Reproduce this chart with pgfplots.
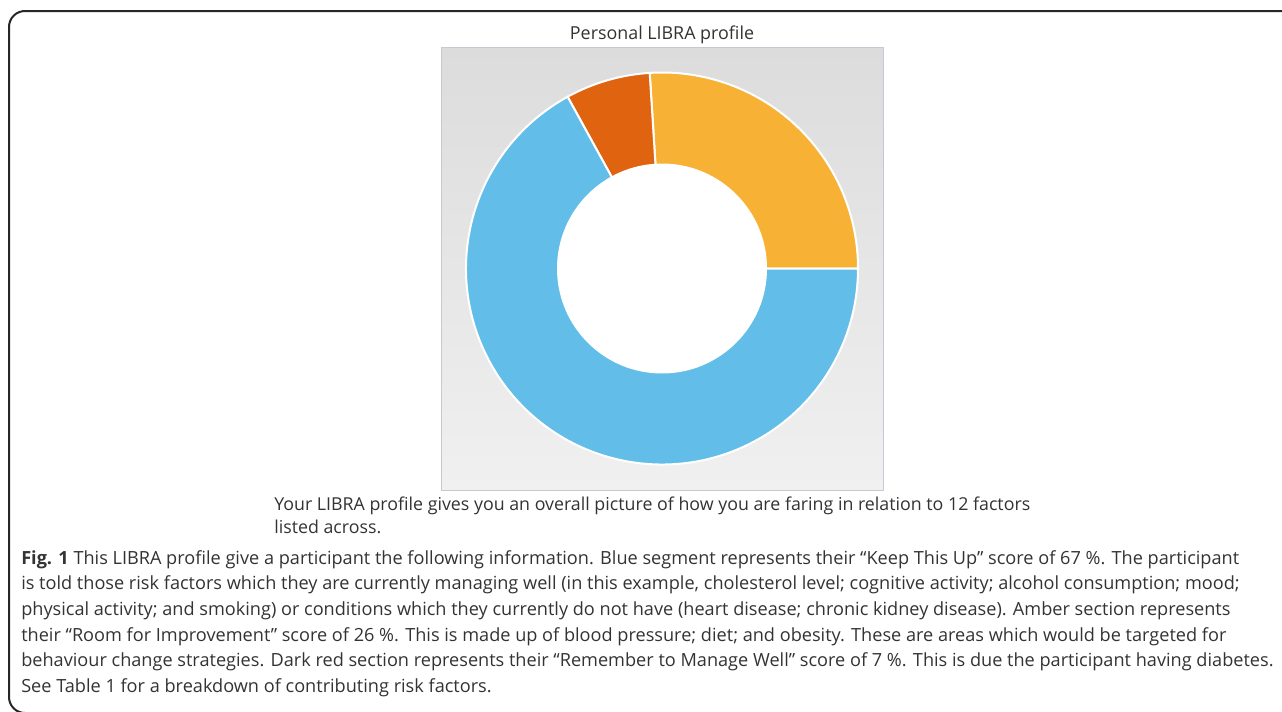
\documentclass[border=0pt]{standalone}
\usepackage{pgfplots}
\pgfplotsset{compat=1.18}
\usepackage{pgfplotstable}
\usepackage{fontspec}
\setmainfont{Open Sans}
\newfontfamily\chartfont{Open Sans}

\definecolor{amber}{RGB}{247,177,52}
\definecolor{darkred}{RGB}{224,99,15}
\definecolor{keepblue}{RGB}{98,190,233}
\definecolor{txt}{RGB}{51,51,51}
\definecolor{gtop}{RGB}{220,220,220}
\definecolor{gbot}{RGB}{240,240,240}
\definecolor{boxline}{RGB}{196,201,210}

% LIBRA profile scores (percent), drawn counterclockwise from 3 o'clock
\pgfplotstableread{
segment value
Improvement 26
Manage 7
Keep 67
}\libra

\begin{document}
\begin{tikzpicture}
\pgfplotstablegetelem{0}{value}\of\libra \let\va\pgfplotsretval
\pgfplotstablegetelem{1}{value}\of\libra \let\vb\pgfplotsretval
\pgfplotstablegetelem{2}{value}\of\libra \let\vc\pgfplotsretval
\pgfmathsetmacro\aA{3.6*\va}
\pgfmathsetmacro\aB{\aA+3.6*\vb}
\pgfmathsetmacro\aC{\aB+3.6*\vc}

\begin{scope}[x=0.75pt,y=-0.75pt]
\useasboundingbox (0,0) rectangle (1282,711);
\draw[line width=1.5pt, black!85, rounded corners=12] (1300,11) -- (9,11) -- (9,713) -- (40,713);
\end{scope}

\begin{axis}[
  at={(496.5pt,-201.375pt)}, anchor=center,
  scale only axis, width=331.5pt, height=332.25pt,
  xmin=-221, xmax=221, ymin=-221.5, ymax=221.5,
  hide axis, clip=false]
\fill[top color=gtop, bottom color=gbot, draw=boxline, line width=0.75pt]
  (rel axis cs:0,0) rectangle (rel axis cs:1,1);
\fill[amber, draw=white, line width=1.5pt] (axis cs:0,0) -- (axis cs:{196*cos(0)},{196*sin(0)})
  arc[start angle=0, end angle=\aA, radius=147pt] -- cycle;
\fill[darkred, draw=white, line width=1.5pt] (axis cs:0,0) -- (axis cs:{196*cos(\aA)},{196*sin(\aA)})
  arc[start angle=\aA, end angle=\aB, radius=147pt] -- cycle;
\fill[keepblue, draw=white, line width=1.5pt] (axis cs:0,0) -- (axis cs:{196*cos(\aB)},{196*sin(\aB)})
  arc[start angle=\aB, end angle=\aC, radius=147pt] -- cycle;
\fill[white] (axis cs:0,0) circle[radius=78.75pt];
\end{axis}

\begin{scope}[x=0.75pt,y=-0.75pt]
\node[text=txt, font=\chartfont\fontsize{13.4}{15}\selectfont] at (662,35) {Personal LIBRA profile};
\node[text=txt, font=\chartfont\fontsize{13.35}{15}\selectfont, anchor=base west, inner sep=0pt] at (274,510)
  {Your LIBRA profile gives you an overall picture of how you are faring in relation to 12 factors};
\node[text=txt, font=\chartfont\fontsize{13.35}{15}\selectfont, anchor=base west, inner sep=0pt] at (274,533)
  {listed across.};
\begin{scope}[every node/.style={text=txt, font=\fontsize{13.6}{16}\selectfont, anchor=base west, inner sep=0pt}]
\node at (21,564) {\textbf{Fig. 1} This LIBRA profile give a participant the following information. Blue segment represents their “Keep This Up” score of 67 \%. The participant};
\node at (21,589) {is told those risk factors which they are currently managing well (in this example, cholesterol level; cognitive activity; alcohol consumption; mood;};
\node at (21,615) {physical activity; and smoking) or conditions which they currently do not have (heart disease; chronic kidney disease). Amber section represents};
\node at (21,641) {their “Room for Improvement” score of 26 \%. This is made up of blood pressure; diet; and obesity. These are areas which would be targeted for};
\node at (21,666) {behaviour change strategies. Dark red section represents their “Remember to Manage Well” score of 7 \%. This is due the participant having diabetes.};
\node at (21,692) {See Table 1 for a breakdown of contributing risk factors.};
\end{scope}
\end{scope}
\end{tikzpicture}
\end{document}
